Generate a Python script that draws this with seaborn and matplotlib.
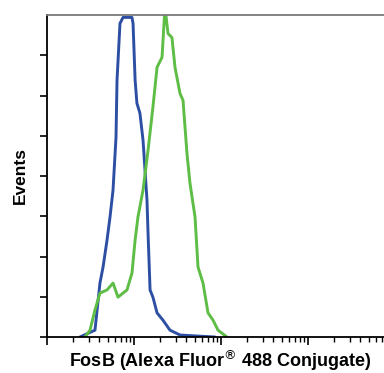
import numpy as np
import pandas as pd
import matplotlib
matplotlib.use("Agg")
import matplotlib.pyplot as plt
import seaborn as sns
from matplotlib.ticker import LogLocator, NullFormatter, FixedLocator

# ---- data ----
blue_intensity = [2.39, 3.56, 4.06, 4.41, 4.90, 5.30, 5.74, 6.21, 6.38, 6.90, 7.48,
                  9.48, 9.75, 10.3, 10.8, 11.7, 12.7, 14.1, 14.5, 15.3, 16.5, 18.4,
                  21.5, 25.9, 33.8, 57.4, 85.3]
blue_events = [0.0, 0.17, 1.34, 1.74, 2.41, 2.98, 3.65, 4.96, 6.38, 7.79, 7.94,
               7.94, 7.79, 6.38, 5.81, 5.56, 4.89, 3.40, 2.58, 1.17, 0.99, 0.60,
               0.42, 0.17, 0.05, 0.02, 0.0]

green_intensity = [2.73, 3.12, 3.56, 4.06, 4.90, 5.74, 6.55, 8.31, 9.48, 10.3, 11.1,
                   12.7, 14.5, 16.5, 18.4, 21.0, 22.7, 24.6, 27.3, 29.6, 33.8, 36.6,
                   40.6, 44.0, 50.3, 54.4, 62.1, 70.9, 80.9, 92.4, 117.0]
green_events = [0.0, 0.17, 0.67, 1.09, 1.17, 1.34, 0.99, 1.17, 1.59, 2.41, 2.98,
                3.65, 4.64, 5.71, 6.70, 6.95, 8.2, 7.54, 7.44, 6.70, 6.05, 5.88,
                4.57, 3.82, 2.98, 1.74, 1.34, 0.60, 0.42, 0.17, 0.0]

series_names = ["control", "FosB"]
series_colors = ["#2d4fa3", "#5dbd45"]

x_label = "FosB (Alexa Fluor$^{®}$ 488 Conjugate)"
y_label = "Events"

df = pd.concat([
    pd.DataFrame({"intensity": blue_intensity, "events": blue_events, "series": series_names[0]}),
    pd.DataFrame({"intensity": green_intensity, "events": green_events, "series": series_names[1]}),
], ignore_index=True)

sns.set_style("ticks")
plt.rcParams["font.family"] = ["Liberation Sans", "DejaVu Sans"]
plt.rcParams["text.color"] = "black"
plt.rcParams["axes.labelcolor"] = "black"

fig = plt.figure(figsize=(3.84, 3.73), dpi=100)
ax = fig.add_axes([47 / 384, 1 - 337 / 373, 1 - 47 / 384, (337 - 15) / 373])

sns.lineplot(data=df, x="intensity", y="events", hue="series",
             palette=dict(zip(series_names, series_colors)),
             linewidth=2.1, legend=False, ax=ax, sort=False, estimator=None)

ax.set_xscale("log")
ax.set_xlim(1, 10 ** ((384 - 47) / 87))
ax.set_ylim(0, 8)

ax.xaxis.set_major_locator(LogLocator(base=10, numticks=10))
ax.xaxis.set_minor_locator(LogLocator(base=10, subs=np.arange(2, 10), numticks=100))
ax.xaxis.set_major_formatter(NullFormatter())
ax.xaxis.set_minor_formatter(NullFormatter())
ax.yaxis.set_major_locator(FixedLocator(range(0, 8)))
ax.yaxis.set_major_formatter(NullFormatter())

ax.tick_params(axis="x", which="major", length=6, width=1.2, direction="out", color="black")
ax.tick_params(axis="x", which="minor", length=3.5, width=1.0, direction="out", color="black")
ax.tick_params(axis="y", which="major", length=5, width=1.2, direction="out", color="black")

for side in ["left", "bottom"]:
    ax.spines[side].set_color("black")
    ax.spines[side].set_linewidth(1.3)
ax.spines["top"].set_color("#7a7a7a")
ax.spines["top"].set_linewidth(1.3)
ax.spines["right"].set_visible(False)

ax.set_xlabel(x_label, fontsize=13, fontweight="bold", color="black")
ax.set_ylabel(y_label, fontsize=12.5, fontweight="bold", color="black")
ax.xaxis.label.set_va("center")
ax.xaxis.set_label_coords((220 - 47) / 337, (337 - 361) / 322)
ax.yaxis.label.set_va("center")
ax.yaxis.set_label_coords((20 - 47) / 337, (337 - 176) / 322)

fig.savefig("out.png", dpi=100)
